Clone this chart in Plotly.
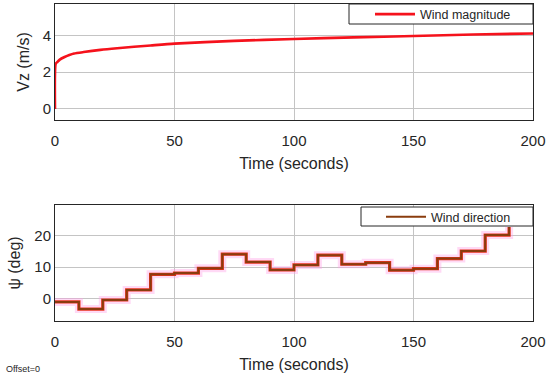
import plotly.graph_objects as go

# ---- data ----
t_mag = [0, 0.3, 1, 2, 4, 6, 8, 12, 19, 26, 40, 50, 75, 100, 125, 150, 175, 200]
v_mag = [0, 2.45, 2.55, 2.68, 2.82, 2.93, 3.01, 3.09, 3.21, 3.30, 3.45, 3.55, 3.70, 3.80, 3.89, 3.96, 4.04, 4.10]

t_dir = [0, 10, 20, 30, 40, 50, 60, 70, 80, 90, 100, 110, 120, 130, 140, 150, 160, 170, 180, 190]
psi_dir = [-1.1, -3.4, -0.5, 2.7, 7.7, 8.1, 9.6, 14.1, 11.6, 9.1, 10.7, 13.8, 10.9, 11.4, 9.0, 9.5, 12.7, 15.1, 20.2, 22.8]

x_ticks = [0, 50, 100, 150, 200]
y1_ticks = [0, 2, 4]
y2_ticks = [0, 10, 20]

W, H = 550, 377
font = "Liberation Sans, Arial, sans-serif"
axcol = "#262626"
gridcol = "#c4c4c4"

fig = go.Figure()

fig.add_trace(go.Scatter(x=t_mag, y=v_mag, mode="lines", name="Wind magnitude",
                         line=dict(color="#f5121c", width=2.6, shape="spline", smoothing=0.6),
                         xaxis="x", yaxis="y", legend="legend"))

# halo and outline for wind direction
fig.add_trace(go.Scatter(x=t_dir, y=psi_dir, mode="lines", showlegend=False,
                         line=dict(color="rgba(255,160,230,0.4)", width=8, shape="hv"),
                         xaxis="x2", yaxis="y2", hoverinfo="skip"))
fig.add_trace(go.Scatter(x=t_dir, y=psi_dir, mode="lines", showlegend=False,
                         line=dict(color="#e8321c", width=3.2, shape="hv"),
                         xaxis="x2", yaxis="y2", hoverinfo="skip"))
fig.add_trace(go.Scatter(x=t_dir, y=psi_dir, mode="lines", name="Wind direction",
                         line=dict(color="#8a3c0e", width=2, shape="hv"),
                         xaxis="x2", yaxis="y2", legend="legend2"))

xd = [55 / W, 533 / W]
y1d = [1 - 120 / H, 1 - 4 / H]
y2d = [1 - 321 / H, 1 - 205 / H]

axis_common = dict(showline=True, mirror=True, linecolor=axcol, linewidth=1,
                   showgrid=True, gridcolor=gridcol, gridwidth=1, zeroline=False,
                   automargin=False,
                   ticks="", tickfont=dict(size=15, color=axcol, family=font))
xaxis_common = dict(ticklabelstandoff=7, range=[0, 200], tickvals=x_ticks, domain=xd)

leg_common = dict(xanchor="left", yanchor="top",
                  bgcolor="rgba(0,0,0,0)", borderwidth=0, itemwidth=40,
                  font=dict(size=12.5, color=axcol, family=font))

# legend frames (boxes) in paper coordinates
box1 = dict(x0=349 / W, x1=533 / W, y0=1 - 24 / H, y1=1 - 4 / H)
box2 = dict(x0=361 / W, x1=533 / W, y0=1 - 226 / H, y1=1 - 207 / H)
shapes = [dict(type="rect", xref="paper", yref="paper", layer="above",
               fillcolor="white", line=dict(color=axcol, width=1), **b) for b in (box1, box2)]

fig.update_layout(
    width=W, height=H, margin=dict(l=0, r=0, t=0, b=0, autoexpand=False),
    paper_bgcolor="white", plot_bgcolor="white",
    font=dict(family=font, color=axcol),
    xaxis=dict(anchor="y",
               title=dict(text="Time (seconds)", font=dict(size=16, color=axcol), standoff=9),
               **xaxis_common, **axis_common),
    yaxis=dict(domain=y1d, range=[-0.6, 5.7], tickvals=y1_ticks, anchor="x",
               title=dict(text="Vz (m/s)", font=dict(size=16, color=axcol), standoff=9),
               **axis_common),
    xaxis2=dict(anchor="y2",
                title=dict(text="Time (seconds)", font=dict(size=16, color=axcol), standoff=9),
                **xaxis_common, **axis_common),
    yaxis2=dict(domain=y2d, range=[-7.2, 29.8], tickvals=y2_ticks, anchor="x2",
                title=dict(text="ψ (deg)", font=dict(size=16, color=axcol), standoff=9),
                **axis_common),
    legend=dict(x=370 / W, y=1 + 0.5 / H, **leg_common),
    legend2=dict(x=381 / W, y=1 - 202 / H, **leg_common),
    shapes=shapes,
    annotations=[dict(text="Offset=0", x=4 / W, y=1 - 369 / H, xref="paper", yref="paper",
                      xanchor="left", yanchor="middle", showarrow=False,
                      font=dict(size=9, color=axcol, family=font))],
)

fig.write_html("out.html", config={"displayModeBar": False},
               post_script="document.body.style.margin='0';")
